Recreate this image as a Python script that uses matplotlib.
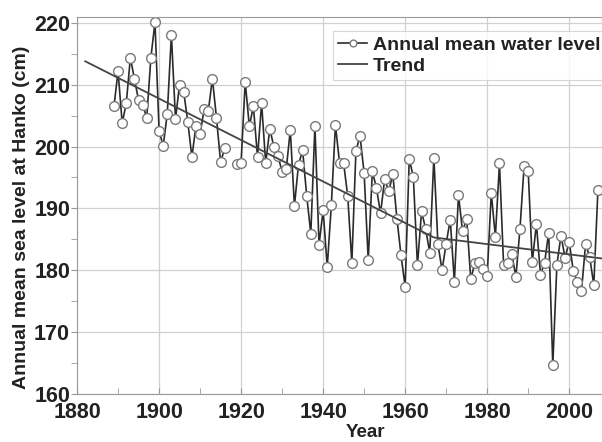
import numpy as np
import matplotlib
matplotlib.use('Agg')
import matplotlib.pyplot as plt
from matplotlib.ticker import MultipleLocator

plt.rcParams['font.family'] = ['Liberation Sans', 'DejaVu Sans']
plt.rcParams['font.weight'] = 'bold'

# Annual mean sea level at Hanko (cm), 1889-2007; 1917-1918 missing
years = list(range(1889, 2008))
level = [206.5, 212.2, 203.8, 207.0, 214.4, 210.9, 207.5, 206.7, 204.7, 214.4,
         220.1, 202.6, 200.1, 205.3, 218.1, 204.5, 210.0, 208.9, 204.0, 198.3,
         203.4, 202.0, 206.1, 205.7, 211.0, 204.6, 197.5, 199.7, np.nan, np.nan,
         197.2, 197.4, 210.5, 203.3, 206.5, 198.3, 207.0, 197.3, 202.9, 199.9,
         198.5, 195.9, 196.3, 202.7, 190.4, 197.1, 199.4, 192.0, 185.9, 203.4,
         184.1, 189.7, 180.5, 190.5, 203.5, 197.4, 197.3, 192.0, 181.2, 199.3,
         201.7, 195.7, 181.6, 196.0, 193.3, 189.2, 194.7, 192.8, 195.5, 188.3,
         182.4, 177.3, 198.0, 195.1, 180.8, 189.5, 186.7, 182.8, 198.2, 184.2,
         180.0, 184.3, 188.2, 178.1, 192.2, 186.3, 188.3, 178.5, 181.2, 181.4,
         180.2, 179.0, 192.5, 185.4, 197.3, 180.9, 181.1, 182.7, 178.9, 186.7,
         196.8, 196.1, 181.3, 187.5, 179.3, 181.2, 186.1, 164.6, 180.9, 185.6,
         182.0, 184.6, 179.9, 178.1, 176.6, 184.3, 182.1, 177.6, 192.9]

trend_years = [1882, 1967, 2008]
trend_level = [213.8, 185.3, 181.9]

fig = plt.figure(figsize=(6.02, 4.42), dpi=100)
ax = fig.add_axes([0.128, 0.109, 0.872, 0.853])

ax.plot(years, level, color='#2b2b2b', linewidth=1.2, marker='o', markersize=7,
        markerfacecolor='white', markeredgecolor='#7a7a7a', markeredgewidth=1.0,
        label='Annual mean water level')
ax.plot(trend_years, trend_level, color='#444444', linewidth=1.3, label='Trend')

ax.set_xlim(1880, 2008)
ax.set_ylim(160, 221)
ax.xaxis.set_major_locator(MultipleLocator(20))
ax.xaxis.set_minor_locator(MultipleLocator(10))
ax.yaxis.set_major_locator(MultipleLocator(10))
ax.yaxis.set_minor_locator(MultipleLocator(5))
ax.grid(True, which='major', color='#d0d0d0', linewidth=0.9)
ax.set_axisbelow(True)

ax.tick_params(axis='x', which='both', direction='in', length=4, color='#999999',
               labelsize=15.5, pad=6, labelcolor='#222222')
ax.tick_params(axis='y', which='both', direction='out', length=4, color='#999999',
               labelsize=15.5, pad=1, labelcolor='#222222')
for s in ['left', 'bottom', 'top']:
    ax.spines[s].set_color('#999999')
ax.spines['right'].set_visible(False)

ax.set_xlabel('Year', fontsize=13.5, fontweight='bold', color='#222222')
ax.set_ylabel('Annual mean sea level at Hanko (cm)', fontsize=14, fontweight='bold',
              color='#222222')
ax.xaxis.set_label_coords(0.549, -0.08)
ax.yaxis.set_label_coords(-0.09, 0.467)

leg = ax.legend(loc='upper left', bbox_to_anchor=(0.488, 0.962), fontsize=14,
                frameon=True, fancybox=False, handlelength=1.5, handletextpad=0.3,
                borderpad=0.25, labelspacing=0.2, borderaxespad=0, markerscale=0.7)
leg.get_frame().set_edgecolor('#cccccc')
leg.get_frame().set_linewidth(0.8)
for t in leg.get_texts():
    t.set_color('#222222')

fig.savefig('out.png', dpi=100)
